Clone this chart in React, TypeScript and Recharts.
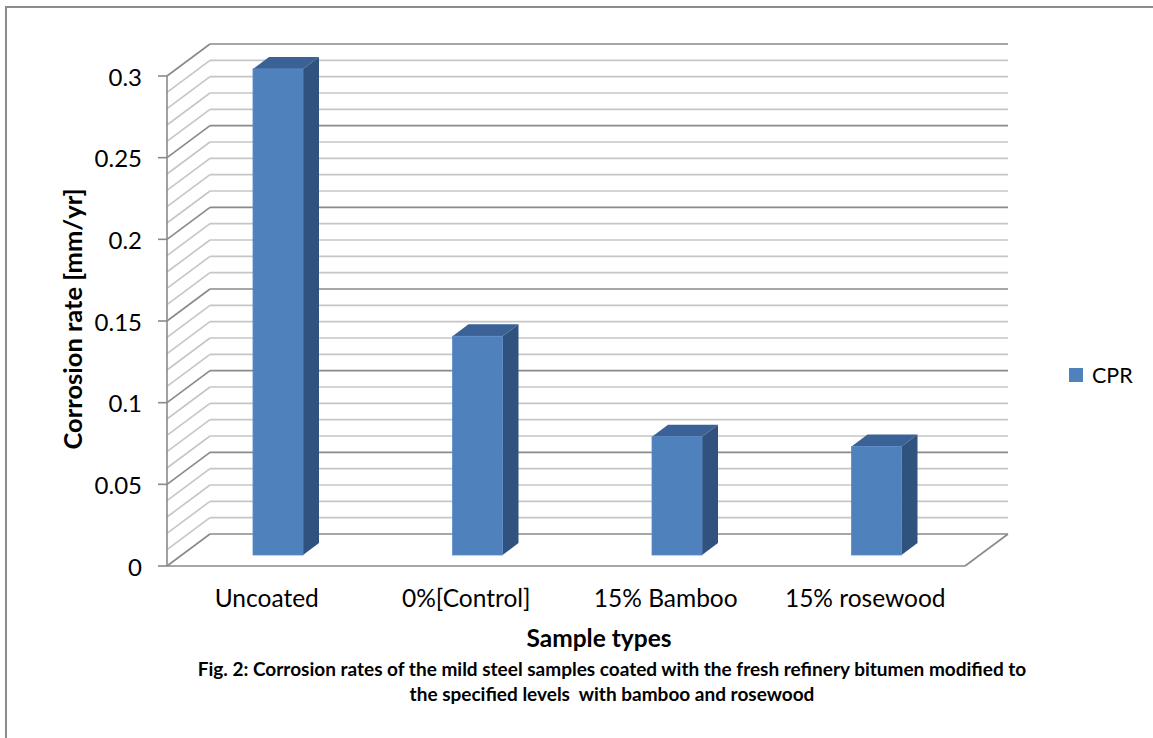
import React from 'react';
import { BarChart, Bar, XAxis, YAxis, CartesianGrid, Legend } from 'recharts';

const categories = ['Uncoated', '0%[Control]', '15% Bamboo', '15% rosewood'];
const cprValues = [0.3, 0.135, 0.073, 0.067];
const majorTicks = [0, 0.05, 0.1, 0.15, 0.2, 0.25, 0.3];
const minorTicks = [
  0, 0.01, 0.02, 0.03, 0.04, 0.05, 0.06, 0.07, 0.08, 0.09, 0.1,
  0.11, 0.12, 0.13, 0.14, 0.15, 0.16, 0.17, 0.18, 0.19, 0.2,
  0.21, 0.22, 0.23, 0.24, 0.25, 0.26, 0.27, 0.28, 0.29, 0.3,
];

const data = categories.map((name, i) => ({ name, CPR: cprValues[i] }));

const FONT = 'Lato, "Noto Sans", sans-serif';
const DEPTH_X = 43;
const DEPTH_Y = 32;
const AXIS_GREY = '#8a8a8a';

// back wall line + left side wall diagonal for every minor tick
const WallLine = (props: any) => {
  const { x1, y1, x2, index } = props;
  const major = index % 5 === 0;
  const stroke = major ? AXIS_GREY : '#c6c6c6';
  const bottomY = props.y != null && props.height != null ? props.y + props.height : null;
  const isFloor = bottomY != null ? Math.abs(y1 - bottomY) < 0.5 : index === 0;
  return (
    <g key={`wall-${index}`}>
      <line x1={x1} y1={y1} x2={x1 + DEPTH_X} y2={y1 - DEPTH_Y} stroke={stroke} strokeWidth={1.6} />
      <line x1={x1 + DEPTH_X} y1={y1 - DEPTH_Y} x2={x2 + DEPTH_X} y2={y1 - DEPTH_Y} stroke={stroke} strokeWidth={1.6} />
      {isFloor && <line x1={x2 + DEPTH_X} y1={y1 - DEPTH_Y} x2={x2} y2={y1} stroke={AXIS_GREY} strokeWidth={1.6} />}
    </g>
  );
};

// only the 0.05 steps get a label and a tick mark
const YTick = (props: any) => {
  const { x, y, payload } = props;
  const v = payload.value;
  if (!majorTicks.some((m) => Math.abs(m - v) < 1e-9)) return <g />;
  const axisX = x + 25;
  return (
    <g>
      <line x1={axisX - 9} y1={y} x2={axisX} y2={y} stroke={AXIS_GREY} strokeWidth={1.6} />
      <text x={x} y={y} textAnchor="end" dominantBaseline="central" fill="#000" fontSize={24} fontFamily={FONT}>
        {String(v)}
      </text>
    </g>
  );
};

const Box3D = (props: any) => {
  const { x, y, width, height } = props;
  const h = height * 0.992;
  const left = x + 11;
  const right = left + width;
  const bottom = y + height - 11;
  const top = bottom - h;
  const dx = 16;
  const dy = 12;
  return (
    <g>
      <polygon
        points={`${left},${top} ${left + dx},${top - dy} ${right + dx},${top - dy} ${right},${top}`}
        fill="#3b6296"
      />
      <polygon
        points={`${right},${top} ${right + dx},${top - dy} ${right + dx},${bottom - dy} ${right},${bottom}`}
        fill="#30527e"
      />
      <rect x={left} y={top} width={width} height={h} fill="#4f81bd" stroke="#5a8ac6" strokeWidth={0.8} />
    </g>
  );
};

const YTitle = ({ viewBox }: any) => {
  const cx = viewBox.x + 52;
  const cy = viewBox.y + viewBox.height / 2 - 2;
  return (
    <text
      x={cx}
      y={cy}
      transform={`rotate(-90, ${cx}, ${cy})`}
      textAnchor="middle"
      dominantBaseline="central"
      fontFamily={FONT}
      fontWeight="bold"
      fontSize={25.5}
      fill="#000"
    >
      Corrosion rate [mm/yr]
    </text>
  );
};

const XTitle = ({ viewBox }: any) => {
  const cx = viewBox.x + viewBox.width / 2 + 33;
  const cy = viewBox.y + 71;
  return (
    <text x={cx} y={cy} textAnchor="middle" dominantBaseline="central" fontFamily={FONT} fontWeight="bold" fontSize={24.5} fill="#000">
      Sample types
    </text>
  );
};

const LegendBox = () => (
  <div style={{ display: 'flex', alignItems: 'center', fontFamily: FONT, fontSize: 21.5, color: '#000' }}>
    <span style={{ display: 'inline-block', width: 14, height: 14, background: '#4f81bd', marginRight: 9 }} />
    CPR
  </div>
);

export default function App() {
  return (
    <div style={{ position: 'absolute', left: 0, top: 0, width: 1153, height: 738, overflow: 'hidden', background: '#fff' }}>
      <div
        style={{
          position: 'absolute',
          left: 5,
          top: 6,
          width: 1200,
          height: 800,
          border: '2px solid #8c8c8c',
          boxSizing: 'border-box',
        }}
      />
      <div style={{ position: 'absolute', left: 0, top: 0 }}>
        <BarChart width={1153} height={738} data={data} margin={{ top: 76, right: 188, left: 20, bottom: 82 }}>
          <CartesianGrid vertical={false} horizontal={WallLine} />
          <XAxis
            dataKey="name"
            height={90}
            axisLine={{ stroke: AXIS_GREY, strokeWidth: 1.6 }}
            tickLine={false}
            tickMargin={18}
            tick={{ fill: '#000', fontSize: 24.5, fontFamily: FONT }}
            interval={0}
            label={{ content: XTitle }}
          />
          <YAxis
            domain={[0, 0.3]}
            ticks={minorTicks}
            interval={0}
            width={147}
            axisLine={{ stroke: AXIS_GREY, strokeWidth: 1.6 }}
            tickLine={false}
            tickSize={9}
            tickMargin={16}
            tick={YTick}
            label={{ content: YTitle }}
          />
          <Legend
            layout="vertical"
            align="center"
            verticalAlign="middle"
            content={LegendBox}
            wrapperStyle={{ left: 1069, top: 362, width: 'auto' }}
          />
          <Bar dataKey="CPR" barSize={50} shape={Box3D} isAnimationActive={false} />
        </BarChart>
      </div>
      <div
        style={{
          position: 'absolute',
          left: 150,
          top: 656,
          width: 924,
          textAlign: 'center',
          fontFamily: FONT,
          fontWeight: 'bold',
          fontSize: 19,
          lineHeight: '25px',
          color: '#000',
        }}
      >
        Fig. 2: Corrosion rates of the mild steel samples coated with the fresh refinery bitumen modified to
        <br />
        the specified levels&nbsp; with bamboo and rosewood
      </div>
    </div>
  );
}
